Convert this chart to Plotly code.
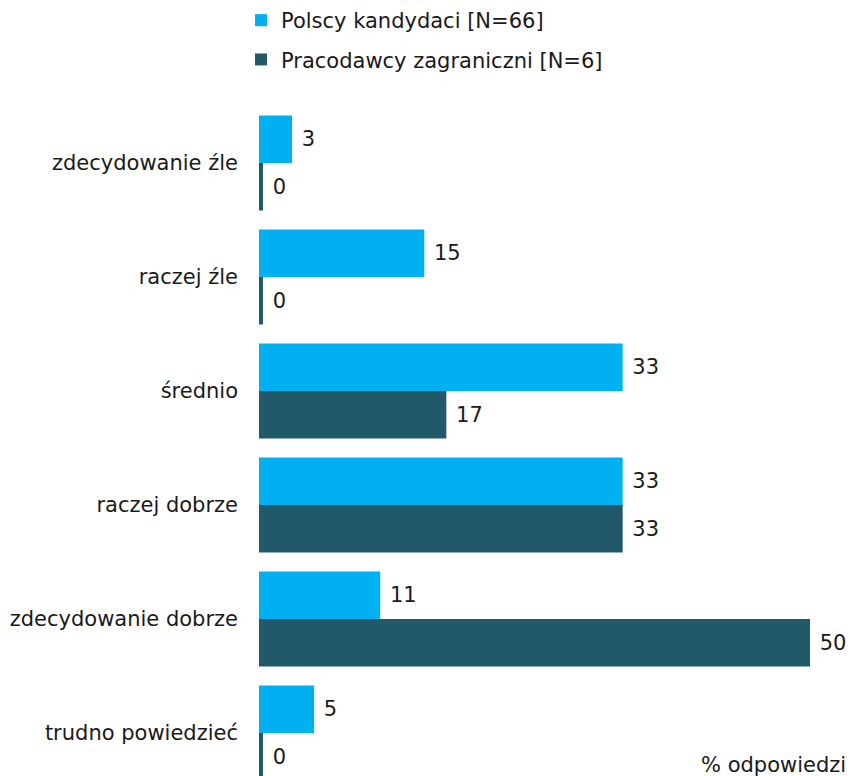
import plotly.graph_objects as go

categories = ["zdecydowanie źle", "raczej źle", "średnio", "raczej dobrze",
              "zdecydowanie dobrze", "trudno powiedzieć"]
polscy_kandydaci = [3, 15, 33, 33, 11, 5]
pracodawcy_zagraniczni = [0, 0, 17, 33, 50, 0]
series_names = ["Polscy kandydaci [N=66]", "Pracodawcy zagraniczni [N=6]"]
series_colors = ["#00B0F0", "#215968"]
axis_note = "% odpowiedzi"

MIN_VISIBLE = 0.36  # zero-valued bars are drawn as a thin sliver, like the original

FONT = "DejaVu Sans"
FS = 21
TXT = "#1a1a1a"
fig = go.Figure()
for i, (name, vals, col) in enumerate(zip(series_names,
                                          [polscy_kandydaci, pracodawcy_zagraniczni],
                                          series_colors)):
    fig.add_trace(go.Bar(
        y=categories,
        x=[v if v > 0 else MIN_VISIBLE for v in vals],
        text=[str(v) for v in vals],
        texttemplate=" %{text}",
        textposition="outside",
        textfont=dict(family=FONT, size=FS, color=TXT),
        cliponaxis=False,
        orientation="h",
        name=name,
        legendgroup=f"g{i}",
        marker=dict(color=col, line=dict(width=0)),
        hoverinfo="skip",
    ))

fig.add_annotation(text=axis_note, xref="paper", yref="paper",
                   x=1.069, y=0.037, xanchor="right", yanchor="top",
                   showarrow=False, font=dict(family=FONT, size=FS, color=TXT))

W, H = 850, 776
fig.update_layout(
    width=W, height=H,
    margin=dict(l=259, r=40, t=106, b=0, autoexpand=False),
    paper_bgcolor="white", plot_bgcolor="white",
    barmode="group", bargap=0.167, bargroupgap=0,
    font=dict(family=FONT, size=FS, color=TXT),
    showlegend=True,
    legend=dict(xref="container", yref="container", x=241/W, y=1 + 7/H,
                xanchor="left", yanchor="top", orientation="v",
                tracegroupgap=9, font=dict(family=FONT, size=FS, color=TXT),
                bgcolor="rgba(0,0,0,0)"),
    xaxis=dict(range=[0, 50], visible=False, showgrid=False, zeroline=False,
               automargin=False),
    yaxis=dict(range=[-0.5 + 670 / 114, -0.5], showgrid=False, zeroline=False,
               showline=False, ticks="", ticklabelstandoff=20, automargin=False,
               tickfont=dict(family=FONT, size=FS, color=TXT)),
)

fig.write_html("out.html",
               config={"displayModeBar": False},
               post_script="document.body.style.margin='0';"
                           "document.body.style.overflow='hidden';")
